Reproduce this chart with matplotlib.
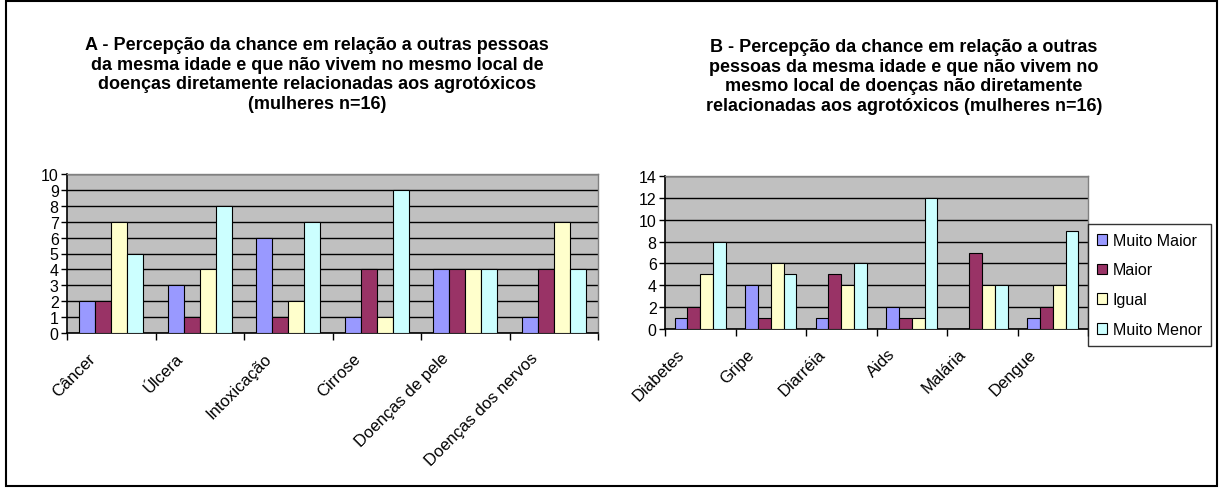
import matplotlib
matplotlib.use("Agg")
import matplotlib.pyplot as plt
import numpy as np
from matplotlib.patches import Rectangle
from matplotlib.transforms import ScaledTranslation

plt.rcParams['font.family'] = ['Liberation Sans', 'DejaVu Sans']

series = ['Muito Maior', 'Maior', 'Igual', 'Muito Menor']
colors = ['#9999FF', '#993366', '#FFFFCC', '#CCFFFF']

cats_a = ['Câncer', 'Úlcera', 'Intoxicação', 'Cirrose', 'Doenças de pele', 'Doenças dos nervos']
muito_maior_a = [2, 3, 6, 1, 4, 1]
maior_a = [2, 1, 1, 4, 4, 4]
igual_a = [7, 4, 2, 1, 4, 7]
muito_menor_a = [5, 8, 7, 9, 4, 4]

cats_b = ['Diabetes', 'Gripe', 'Diarréia', 'Aids', 'Malária', 'Dengue']
muito_maior_b = [1, 4, 1, 2, 0, 1]
maior_b = [2, 1, 5, 1, 7, 2]
igual_b = [5, 6, 4, 1, 4, 4]
muito_menor_b = [8, 5, 6, 12, 4, 9]

title_a = ("A - Percepção da chance em relação a outras pessoas\n"
           "da mesma idade e que não vivem no mesmo local de\n"
           "doenças diretamente relacionadas aos agrotóxicos\n"
           "(mulheres n=16)")
title_b = ("B - Percepção da chance em relação a outras\n"
           "pessoas da mesma idade e que não vivem no\n"
           "mesmo local de doenças não diretamente\n"
           "relacionadas aos agrotóxicos (mulheres n=16)")

W, H = 1219, 489
fig = plt.figure(figsize=(W / 100, H / 100), dpi=100)


def px_axes(x0, y0, x1, y1):
    return fig.add_axes([x0 / W, 1 - y1 / H, (x1 - x0) / W, (y1 - y0) / H])


def draw(ax, cats, data, ymax, ystep):
    n = len(cats)
    x = np.arange(n)
    w = 1 / 5.5
    for k, vals in enumerate(data):
        ax.bar(x + (k - 1.5) * w, vals, width=w, color=colors[k],
               edgecolor='black', linewidth=0.8, label=series[k], zorder=3)
    ax.set_facecolor('#C0C0C0')
    ax.set_xlim(-0.5, n - 0.5)
    ax.set_ylim(0, ymax)
    ax.set_yticks(np.arange(0, ymax + 1, ystep))
    ax.set_axisbelow(True)
    ax.yaxis.grid(True, color='black', linewidth=1)
    ax.tick_params(axis='y', labelsize=11.5, length=4, width=1, direction='out', pad=2)
    ax.set_xticks(x)
    ax.set_xticklabels(cats, rotation=45, ha='right', rotation_mode='anchor', fontsize=12)
    ax.tick_params(axis='x', which='major', length=0, pad=0)
    ax.set_xticks(np.arange(n + 1) - 0.5, minor=True)
    ax.tick_params(axis='x', which='minor', length=5, width=1, direction='out')
    off = ScaledTranslation(-24 / 100, -17 / 100, fig.dpi_scale_trans)
    for lab in ax.get_xticklabels():
        lab.set_transform(lab.get_transform() + off)
    for s in ['top', 'right']:
        ax.spines[s].set_color('#808080')
        ax.spines[s].set_linewidth(1)
    for s in ['left', 'bottom']:
        ax.spines[s].set_color('black')
        ax.spines[s].set_linewidth(1.2)


ax_a = px_axes(67, 175, 598, 334)
draw(ax_a, cats_a, [muito_maior_a, maior_a, igual_a, muito_menor_a], 10, 1)

ax_b = px_axes(665, 177, 1088, 330)
draw(ax_b, cats_b, [muito_maior_b, maior_b, igual_b, muito_menor_b], 14, 2)

leg = ax_b.legend(loc='upper left', bbox_to_anchor=(1088 / W, 1 - 225 / H),
                  bbox_transform=fig.transFigure, borderaxespad=0,
                  fontsize=11.5, frameon=True, fancybox=False,
                  handlelength=0.65, handleheight=0.65, handletextpad=0.35,
                  labelspacing=0.92, borderpad=0.55)
leg.get_frame().set_edgecolor('black')
leg.get_frame().set_linewidth(1)

fig.text(317 / W, 1 - 37 / H, title_a, ha='center', va='top', fontsize=13,
         fontweight='bold', linespacing=1.2)
fig.text(904 / W, 1 - 39 / H, title_b, ha='center', va='top', fontsize=13,
         fontweight='bold', linespacing=1.2)

fig.patches.append(Rectangle((6 / W, 2 / H), (1217 - 6) / W, (487 - 2) / H,
                             transform=fig.transFigure, fill=False,
                             edgecolor='black', linewidth=1.5))

fig.savefig('out.png', dpi=100)
